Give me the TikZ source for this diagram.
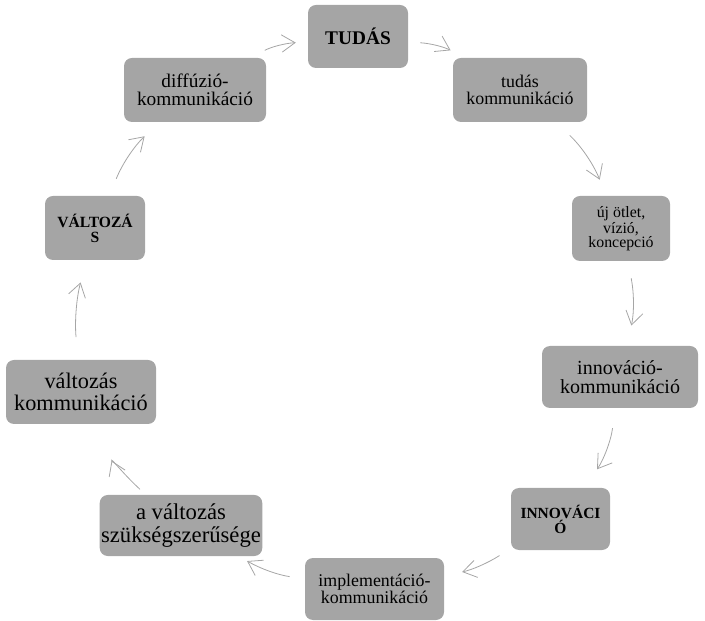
\documentclass[tikz,border=0pt]{standalone}
\usepackage{fontspec}
\setmainfont{Liberation Serif}
\usetikzlibrary{arrows.meta}
\definecolor{boxgray}{HTML}{A5A5A5}
\definecolor{arrowgray}{HTML}{A6A6A6}
\newcommand{\fs}[2]{\fontsize{#1}{#2}\selectfont}

\begin{document}
\begin{tikzpicture}[x=.75pt,y=.75pt,
  box/.style={fill=boxgray,rounded corners=6pt,align=center,inner sep=1pt},
  cyc/.style={draw=arrowgray,line width=.6pt,-{Straight Barb[length=10pt,width=13pt]}}]
   \useasboundingbox (0,0) rectangle (705,620);
   \node[box,minimum width=75pt,minimum height=47.25pt,font=\fs{14.5}{15}\bfseries] (tudas) at (358,583.5) {TUDÁS};
   \node[box,minimum width=100.5pt,minimum height=48pt,font=\fs{13.4}{12.5}] (tudaskomm) at (520,530) {tudás\\kommunikáció};
   \node[box,minimum width=73.5pt,minimum height=48.75pt,font=\fs{11.9}{10.5}] (otlet) at (621,391.5) {új ötlet,\\vízió,\\koncepció};
   \node[box,minimum width=117pt,minimum height=46.5pt,font=\fs{15}{14}] (innokomm) at (620,243) {innováció-\\kommunikáció};
   \node[box,minimum width=74.25pt,minimum height=46.5pt,font=\fs{11.6}{11.3}\bfseries] (innovacio) at (560.5,101) {INNOVÁCI\\Ó};
   \node[box,minimum width=104.25pt,minimum height=46.5pt,font=\fs{13.4}{13}] (implkomm) at (374.5,31) {implementáció-\\kommunikáció};
   \node[box,minimum width=121.5pt,minimum height=45.75pt,font=\fs{17}{17}] (szukseg) at (181,94.5) {a változás\\szükségszerűsége};
   \node[box,minimum width=112.5pt,minimum height=48pt,font=\fs{16.7}{16.5}] (valtkomm) at (81,228) {változás\\kommunikáció};
   \node[box,minimum width=75pt,minimum height=48pt,font=\fs{11.7}{11.3}\bfseries] (valtozas) at (95,392) {VÁLTOZÁ\\S};
   \node[box,minimum width=106.5pt,minimum height=48pt,font=\fs{14.5}{13.5}] (diffkomm) at (195,530) {diffúzió-\\kommunikáció};
   \foreach \a/\b/\g/\s/\e in {diffkomm/tudas/12/12/9, tudas/tudaskomm/12/9/12,
       tudaskomm/otlet/12/14.3/13, otlet/innokomm/12/13/15.5,
       innokomm/innovacio/14/15/17, innovacio/implkomm/10/10/13.7,
       implkomm/szukseg/10/11.5/7.4, szukseg/valtkomm/12/6/29.7,
       valtkomm/valtozas/10/17/17.2, valtozas/diffkomm/12/13.7/15.2}
     \draw[cyc,shorten <=\s pt,shorten >=\e pt] (\a) to[bend left=\g] (\b);
\end{tikzpicture}
\end{document}
